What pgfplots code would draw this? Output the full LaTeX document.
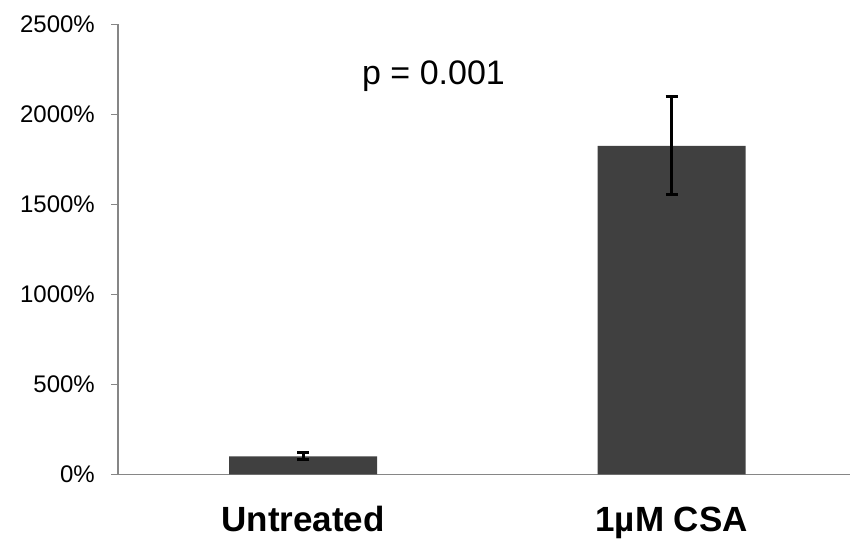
\documentclass[border=0pt]{standalone}
\usepackage{fontspec}
\setmainfont{Liberation Sans}
\usepackage{pgfplots}
\pgfplotsset{compat=1.18}
\definecolor{barfill}{HTML}{404040}
\definecolor{axisgray}{HTML}{868686}

\begin{document}
\begin{tikzpicture}
\useasboundingbox (0,0) rectangle (850pt,539pt);
\begin{axis}[
    at={(118pt,64.7pt)}, anchor=south west,
    scale only axis,
    width=732pt, height=450pt,
    xmin=-0.502, xmax=1.484,
    ymin=0, ymax=2500,
    axis x line*=bottom, axis y line*=left,
    axis line style={axisgray, line width=1.3pt, -},
    xtick={0,1},
    xticklabels={Untreated, 1µM CSA},
    x tick style={draw=none},
    xticklabel style={font=\fontsize{35}{42}\selectfont\bfseries,
        anchor=base, yshift=-50pt},
    ytick={0,500,1000,1500,2000,2500},
    yticklabels={0\%,500\%,1000\%,1500\%,2000\%,2500\%},
    y tick style={axisgray, line width=1.3pt},
    tick align=outside, major tick length=7pt,
    yticklabel style={font=\fontsize{24}{28}\selectfont,
        anchor=east, inner sep=0pt, xshift=-16pt},
    ybar, bar width=148pt,
]
\addplot[fill=barfill, draw=none,
    error bars/.cd, y dir=both, y explicit,
    error bar style={black, line width=3pt},
    error mark options={rotate=90, mark size=6pt, black, line width=3pt}]
  coordinates {(0,100) +- (0,20) (1,1825) +- (0,272)};
\node[font=\fontsize{34}{40}\selectfont, anchor=base] at (axis cs:0.354,2167) {p = 0.001};
\end{axis}
\end{tikzpicture}
\end{document}
